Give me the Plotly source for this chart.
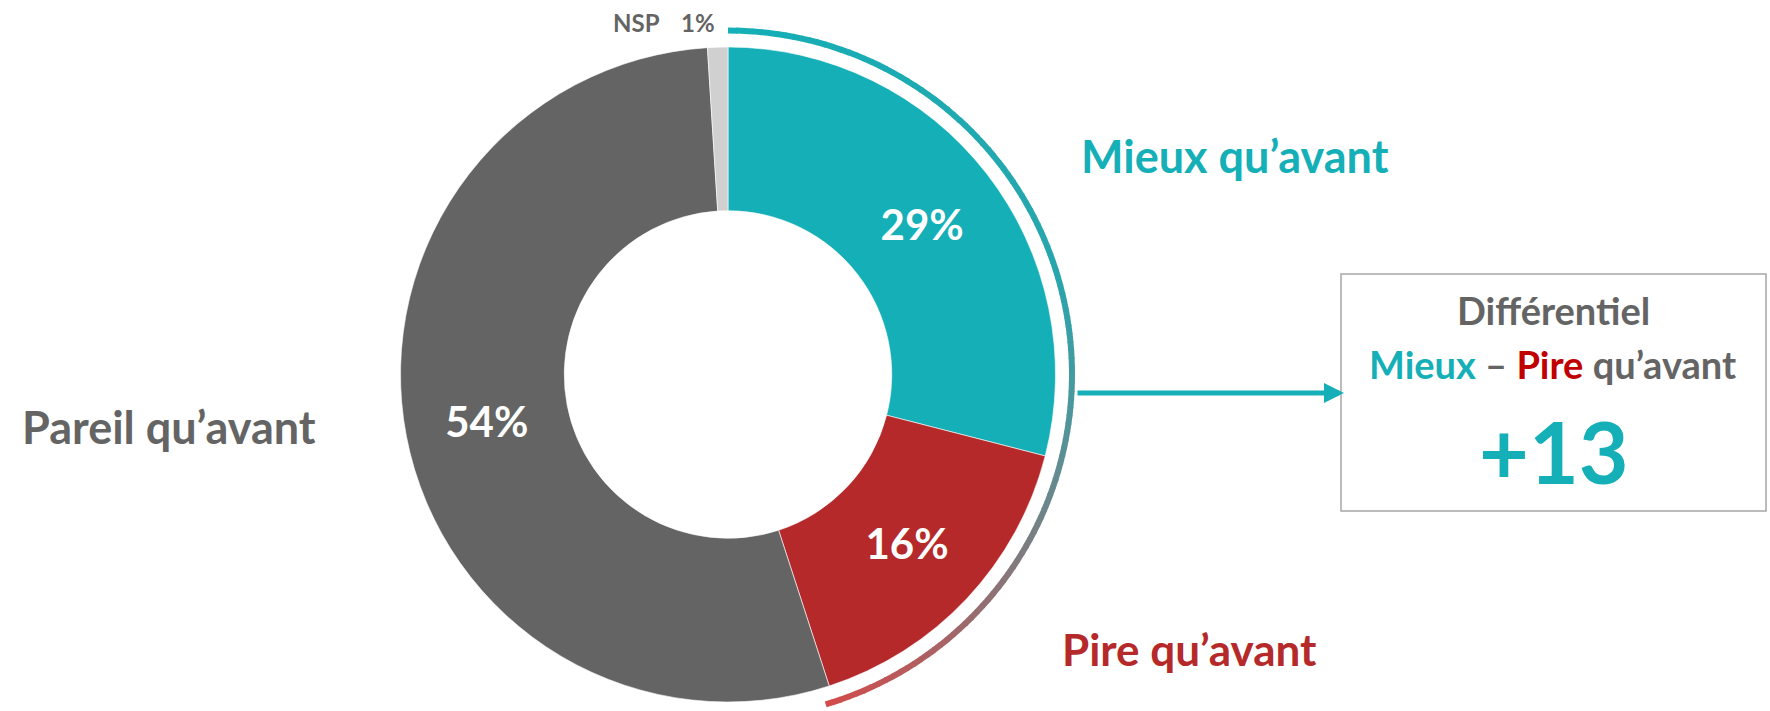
import plotly.graph_objects as go
import math

# Survey answers (share of respondents, %)
categories = ["Mieux qu’avant", "Pire qu’avant", "Pareil qu’avant", "NSP"]
shares = [29, 16, 54, 1]
slice_colors = ["#14AFB7", "#B5292A", "#646464", "#D0D0D0"]
slice_texts = ["29%", "16%", "54%", ""]
differential = shares[0] - shares[1]

W, H = 1770, 711
FONT = "Lato"

# donut geometry in pixels
cx, cy, r = 728, 374.5, 327.5
ring_r = 344

fig = go.Figure()

fig.add_trace(go.Pie(
    labels=categories,
    values=shares,
    sort=False,
    direction="clockwise",
    rotation=0,
    hole=0.5,
    marker=dict(colors=slice_colors, line=dict(color="white", width=0.6)),
    text=slice_texts,
    textinfo="text",
    textposition="inside",
    insidetextorientation="horizontal",
    textfont=dict(family=FONT, size=42, color="white", weight="bold"),
    hoverinfo="skip",
    showlegend=False,
    domain=dict(x=[(cx - r) / W, (cx + r) / W],
                y=[(H - (cy + r)) / H, (H - (cy - r)) / H]),
))


def lerp_color(stops, t):
    for (t0, c0), (t1, c1) in zip(stops[:-1], stops[1:]):
        if t <= t1:
            f = (t - t0) / (t1 - t0) if t1 > t0 else 0
            return "rgb({},{},{})".format(*[round(a + (b - a) * f) for a, b in zip(c0, c1)])
    return "rgb({},{},{})".format(*stops[-1][1])


# Gradient ring around the "Mieux" + "Pire" slices
grad = [(0.0, (20, 175, 183)), (0.45, (40, 165, 172)), (0.6, (80, 150, 155)),
        (0.8, (145, 112, 115)), (1.0, (212, 74, 74))]
end_deg = 360 * (shares[0] + shares[1]) / sum(shares) + 1.5
n_seg = 120
for i in range(n_seg):
    a0 = math.radians(end_deg * i / n_seg)
    a1 = math.radians(end_deg * (i + 1.15) / n_seg if i < n_seg - 1 else end_deg)
    fig.add_trace(go.Scatter(
        x=[cx + ring_r * math.sin(a0), cx + ring_r * math.sin(a1)],
        y=[cy - ring_r * math.cos(a0), cy - ring_r * math.cos(a1)],
        mode="lines",
        line=dict(color=lerp_color(grad, (i + 0.5) / n_seg), width=6),
        hoverinfo="skip",
        showlegend=False,
    ))

annotations = [
    dict(x=1235, y=156, text="Mieux qu’avant",
         font=dict(family=FONT, size=45, color="#14AFB7", weight="bold")),
    dict(x=1189, y=649, text="Pire qu’avant",
         font=dict(family=FONT, size=44, color="#B5292A", weight="bold")),
    dict(x=20, y=427, text="Pareil qu’avant", xanchor="left",
         font=dict(family=FONT, size=45, color="#646464", weight="bold")),
    dict(x=636, y=22, text="NSP",
         font=dict(family=FONT, size=24, color="#646464", weight="bold")),
    dict(x=698, y=22, text="1%",
         font=dict(family=FONT, size=24, color="#646464", weight="bold")),
    dict(x=1553, y=310, text="Différentiel",
         font=dict(family=FONT, size=38, color="#646464", weight="bold")),
    dict(x=1552, y=364,
         text="<span style='color:#14AFB7'>Mieux</span> – "
              "<span style='color:#C00000'>Pire</span> qu’avant",
         font=dict(family=FONT, size=38, color="#646464", weight="bold")),
    dict(x=1554, y=450, text=f"+{differential}",
         font=dict(family=FONT, size=86, color="#14AFB7", weight="bold")),
]
for a in annotations:
    a.update(xref="x", yref="y", showarrow=False)
    a.setdefault("xanchor", "center")
    a["yanchor"] = "middle"

# arrow from the ring to the box
annotations.append(dict(
    x=1344, y=393, ax=1076, ay=393, xref="x", yref="y", axref="x", ayref="y",
    text="", showarrow=True, arrowhead=2, arrowsize=0.8, arrowwidth=5,
    arrowcolor="#14AFB7", standoff=0,
))

fig.update_layout(
    width=W, height=H,
    margin=dict(l=0, r=0, t=0, b=0),
    paper_bgcolor="white", plot_bgcolor="white",
    xaxis=dict(range=[0, W], visible=False, fixedrange=True),
    yaxis=dict(range=[H, 0], visible=False, fixedrange=True),
    shapes=[dict(type="rect", xref="x", yref="y", x0=1341, x1=1766, y0=274, y1=511,
                 line=dict(color="#A6A6A6", width=1.5), fillcolor="rgba(0,0,0,0)")],
    annotations=annotations,
)

fig.write_html("out.html")
